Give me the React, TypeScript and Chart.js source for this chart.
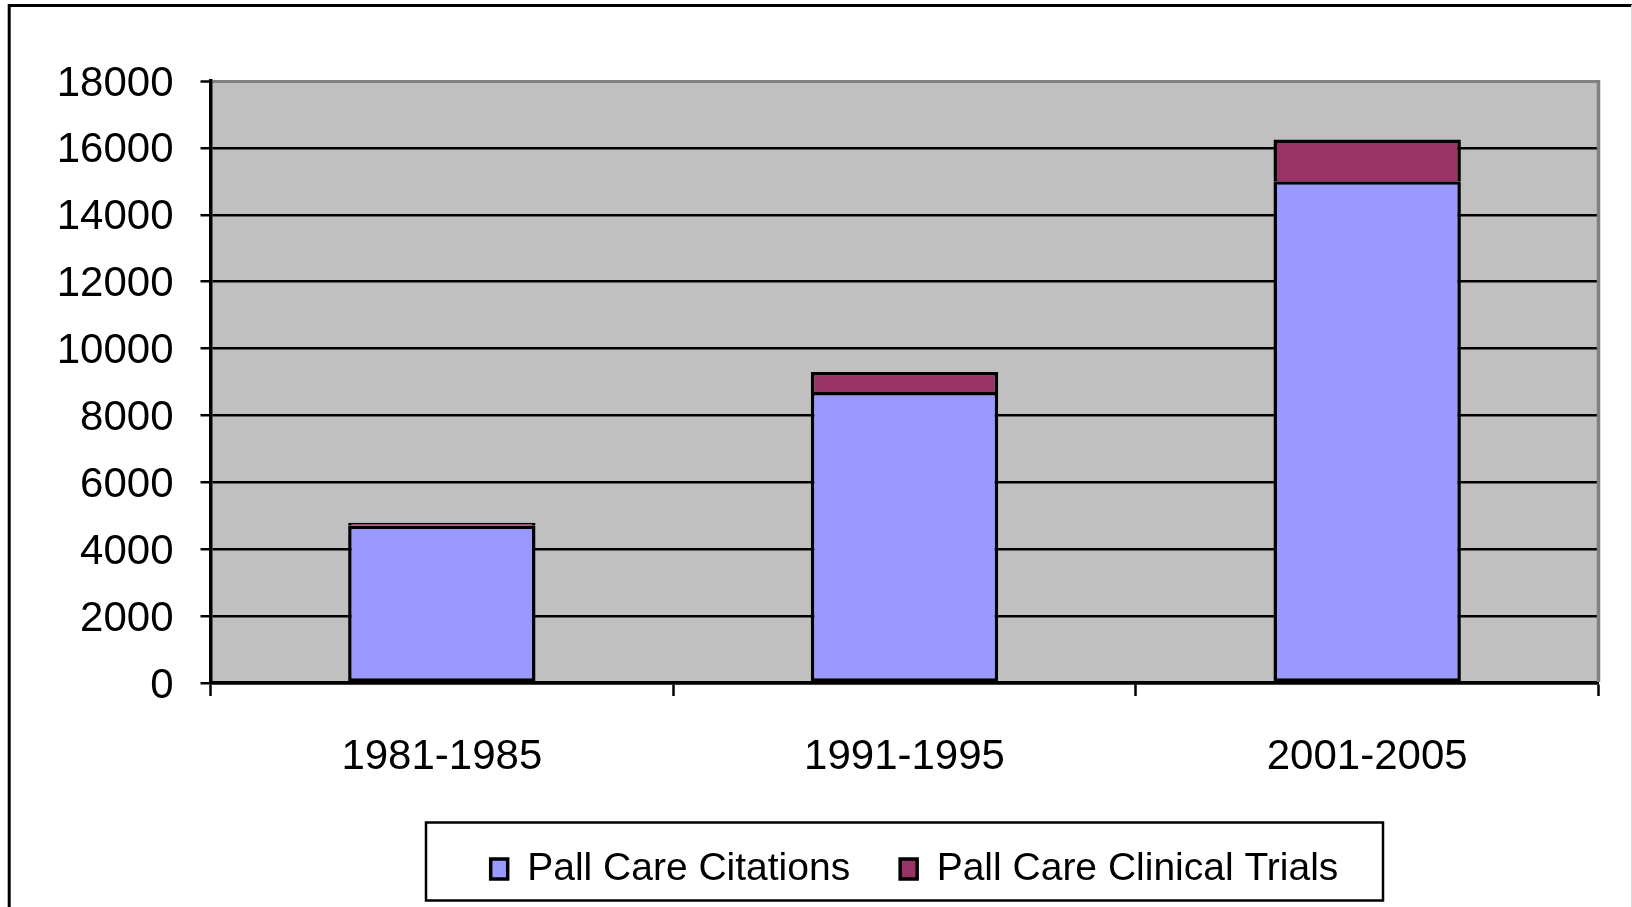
import React, { useEffect, useRef } from 'react';
import { Chart, registerables } from 'chart.js';

Chart.register(...registerables);

const categories = ['1981-1985', '1991-1995', '2001-2005'];
const citations = [4700, 8700, 15000];
const clinicalTrials = [90, 600, 1250];
const seriesNames = ['Pall Care Citations', 'Pall Care Clinical Trials'];
const yMin = 0;
const yMax = 18000;
const yStep = 2000;

const FONT = "'Liberation Sans', Arial, Helvetica, sans-serif";

export default function App() {
  const ref = useRef<HTMLCanvasElement>(null);

  useEffect(() => {
    if (!ref.current) return;

    const decor = {
      id: 'decor',
      afterLayout(chart: any) {
        const lg = chart.legend;
        if (lg) {
          lg.left += 10;
          lg.right += 10;
        }
      },
      beforeDraw(chart: any) {
        const { ctx, chartArea: a, width, height } = chart;
        ctx.save();
        ctx.fillStyle = '#C0C0C0';
        ctx.fillRect(a.left, a.top, a.right - a.left, a.bottom - a.top);
        ctx.strokeStyle = '#000';
        ctx.lineWidth = 3;
        ctx.beginPath();
        ctx.moveTo(width, 5.5);
        ctx.lineTo(9.2, 5.5);
        ctx.lineTo(9.2, height);
        ctx.stroke();
        ctx.strokeStyle = '#d8d8d8';
        ctx.lineWidth = 1;
        ctx.beginPath();
        ctx.moveTo(1631.5, 5);
        ctx.lineTo(1631.5, height);
        ctx.stroke();
        ctx.restore();
      },
      afterDraw(chart: any) {
        const { ctx, chartArea: a } = chart;
        ctx.save();
        ctx.strokeStyle = '#808080';
        ctx.lineWidth = 3.5;
        ctx.beginPath();
        ctx.moveTo(a.right, a.top - 1);
        ctx.lineTo(a.right, a.bottom - 1);
        ctx.stroke();
        const lg = chart.legend;
        if (lg) {
          const cx = (a.left + a.right) / 2;
          ctx.strokeStyle = '#000';
          ctx.lineWidth = 2.5;
          ctx.strokeRect(cx - 478.5, lg.top + 23, 957, 78);
        }
        ctx.restore();
      },
    };

    const chart = new Chart(ref.current, {
      type: 'bar',
      data: {
        labels: categories,
        datasets: [
          {
            label: seriesNames[0],
            data: citations,
            backgroundColor: '#9999FF',
            borderColor: '#000000',
            borderWidth: 3.5,
            borderSkipped: false,
            stack: 's',
          },
          {
            label: seriesNames[1],
            data: clinicalTrials,
            backgroundColor: '#993366',
            borderColor: '#000000',
            borderWidth: 3.5,
            borderSkipped: 'start',
            stack: 's',
          },
        ],
      },
      options: {
        responsive: false,
        animation: false,
        devicePixelRatio: 1,
        layout: { padding: { left: 0, right: 33.5, top: 81, bottom: 8.5 } },
        datasets: {
          bar: { barPercentage: 0.405, categoryPercentage: 1 },
        },
        plugins: {
          title: { display: false },
          tooltip: { enabled: false },
          legend: {
            display: true,
            position: 'bottom',
            fullSize: false,
            labels: {
              color: '#000',
              font: { family: FONT, size: 39 },
              boxWidth: 17,
              boxHeight: 20,
              padding: 50,
            },
          },
        },
        scales: {
          x: {
            stacked: true,
            offset: true,
            afterFit: (s: any) => {
              s.height = 116.5;
            },
            grid: {
              offset: true,
              drawOnChartArea: false,
              drawTicks: true,
              tickLength: 13,
              tickColor: '#000',
              tickWidth: 2.5,
            },
            border: { display: true, color: '#000', width: 3.5 },
            ticks: {
              color: '#000',
              font: { family: FONT, size: 42 },
              padding: 36,
              maxRotation: 0,
            },
          },
          y: {
            stacked: true,
            min: yMin,
            max: yMax,
            afterFit: (s: any) => {
              s.width = 210.5;
            },
            grid: {
              color: (c: any) => (c.tick && c.tick.value === yMax ? '#808080' : '#000'),
              lineWidth: (c: any) => (c.tick && c.tick.value === yMax ? 3 : 2.5),
              tickColor: '#000',
              tickLength: 10,
              tickWidth: 2.5,
            },
            border: { display: true, color: '#000', width: 3.5 },
            ticks: {
              stepSize: yStep,
              color: '#000',
              font: { family: FONT, size: 42 },
              padding: 27,
              labelOffset: 3,
              callback: (v: any) => String(v),
            },
          },
        },
      },
      plugins: [decor],
    });

    return () => chart.destroy();
  }, []);

  return (
    <div style={{ position: 'absolute', left: 0, top: 0, width: 1632, height: 907, background: '#fff' }}>
      <canvas ref={ref} width={1632} height={907} style={{ display: 'block' }} />
    </div>
  );
}
